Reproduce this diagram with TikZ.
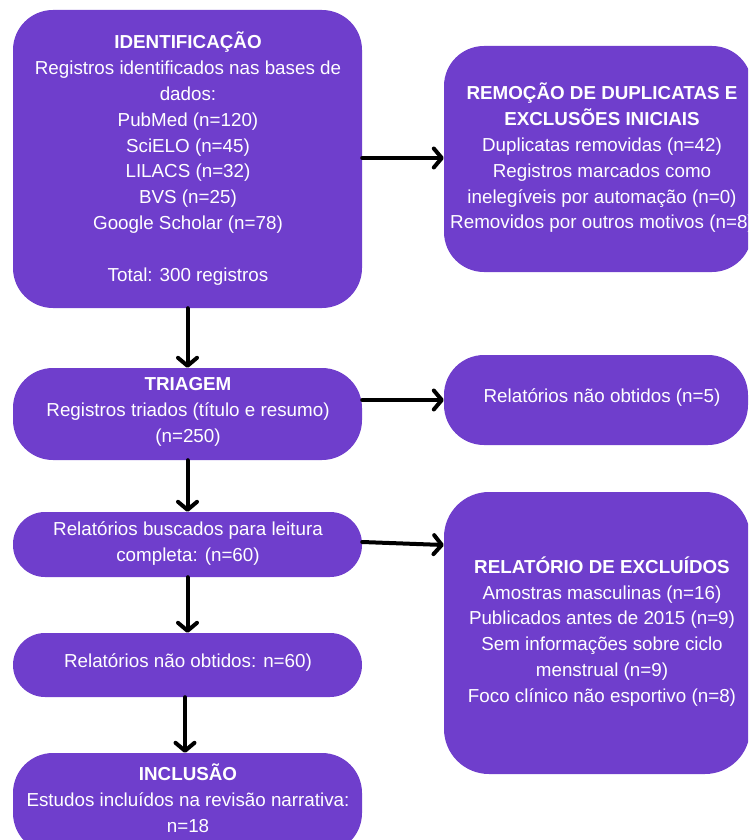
\documentclass[tikz,border=0pt]{standalone}
\usepackage{fontspec}
\setmainfont{Liberation Sans}
\usetikzlibrary{arrows.meta}
\definecolor{boxpurple}{RGB}{111,62,204}
\tikzset{
  box/.style={fill=boxpurple, draw=none, inner sep=0pt},
  txt/.style={text=white, align=center, inner sep=0pt,
    font=\fontsize{18.8}{25.8}\selectfont},
  arr/.style={line width=4pt, line cap=round,
    -{Straight Barb[round, length=8pt, width=19pt]}}
}
\begin{document}
\begin{tikzpicture}[x=1pt,y=-1pt]
\useasboundingbox (0,0) rectangle (748,840);
\clip (0,0) rectangle (748,840);
% boxes
\node[box, rounded corners=40pt, minimum width=349pt, minimum height=298pt] (id) at (187.5,159) {};
\node[box, rounded corners=40pt, minimum width=308pt, minimum height=226pt] (rem) at (598,159) {};
\node[box, rounded corners=40pt, minimum width=349pt, minimum height=92pt] (tri) at (187.5,414) {};
\node[box, rounded corners=40pt, minimum width=304pt, minimum height=90pt] (nfive) at (596,400) {};
\node[box, rounded corners=32pt, minimum width=349pt, minimum height=65pt] (busc) at (187.5,544.5) {};
\node[box, rounded corners=32pt, minimum width=349pt, minimum height=64pt] (nsixty) at (187.5,665) {};
\node[box, rounded corners=40pt, minimum width=349pt, minimum height=100pt] (inc) at (187.5,803) {};
\node[box, rounded corners=45pt, minimum width=306pt, minimum height=282pt] (excl) at (597,633) {};
% texts
\node[txt] (tid) at (188,158.5) {\textbf{IDENTIFICAÇÃO}\\Registros identificados nas bases de\\dados:\\PubMed (n=120)\\SciELO (n=45)\\LILACS (n=32)\\BVS (n=25)\\Google Scholar (n=78)\\[25.8pt]Total: 300 registros};
\node[txt] (trem) at (602,158) {\textbf{REMOÇÃO DE DUPLICATAS E}\\\textbf{EXCLUSÕES INICIAIS}\\Duplicatas removidas (n=42)\\Registros marcados como\\inelegíveis por automação (n=0)\\Removidos por outros motivos (n=8)};
\node[txt] (ttri) at (188,412) {\textbf{TRIAGEM}\\Registros triados (título e resumo)\\(n=250)};
\node[txt] (tnfive) at (602,398) {Relatórios não obtidos (n=5)};
\node[txt] (tbusc) at (188,543.5) {Relatórios buscados para leitura\\completa: (n=60)};
\node[txt] (tnsixty) at (188,663) {Relatórios não obtidos: n=60)};
\node[txt] (tinc) at (188,798) {\textbf{INCLUSÃO}\\Estudos incluídos na revisão narrativa:\\n=18};
\node[txt] (texcl) at (602,631.5) {\textbf{RELATÓRIO DE EXCLUÍDOS}\\Amostras masculinas (n=16)\\Publicados antes de 2015 (n=9)\\Sem informações sobre ciclo\\menstrual (n=9)\\Foco clínico não esportivo (n=8)};
% arrows
\draw[arr] (id.east |- 0,158) -- (rem.west |- 0,158);
\draw[arr] (id.south) -- (tri.north);
\draw[arr] (tri.east |- nfive.west) -- (nfive.west);
\draw[arr] (tri.south) -- (busc.north);
\draw[arr] (busc.east |- 0,542) -- (excl.west |- 0,545);
\draw[arr] (busc.south) -- (nsixty.north);
\draw[arr] (nsixty.south -| 185,0) -- (inc.north -| 185,0);
\end{tikzpicture}
\end{document}
